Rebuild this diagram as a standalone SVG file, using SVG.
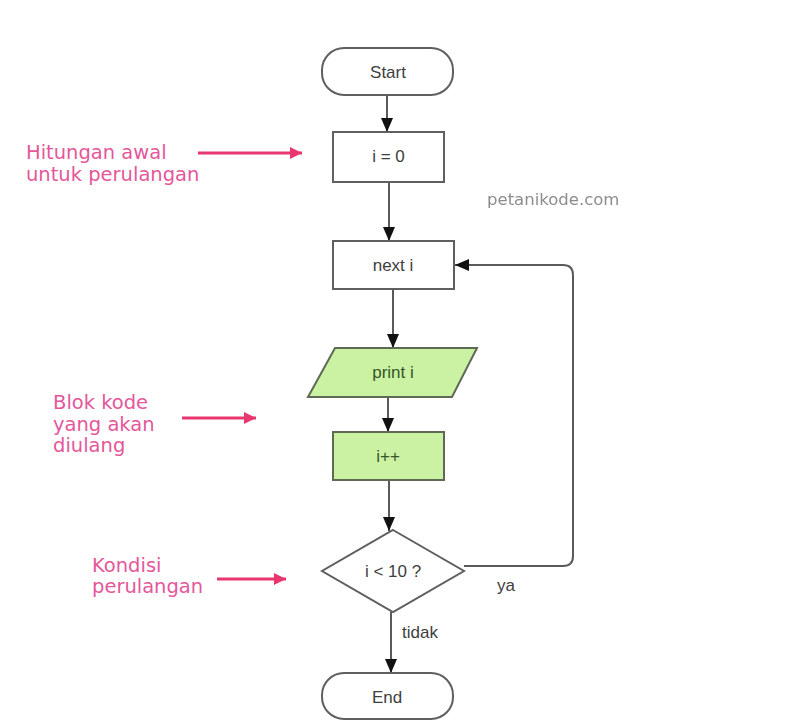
<svg xmlns="http://www.w3.org/2000/svg" width="793" height="721" viewBox="0 0 793 721">
  <style>
    .shape { fill: #ffffff; stroke: #5f5f5f; stroke-width: 2; }
    .green { fill: #cbf1a3; stroke: #5f6a55; stroke-width: 2; }
    .label { font-family: "Liberation Sans", Arial, sans-serif; font-size: 17px; fill: #3e3e3e; text-anchor: middle; }
    .glabel { font-family: "Liberation Sans", Arial, sans-serif; font-size: 17px; fill: #35562a; text-anchor: middle; }
    .edge { font-family: "Liberation Sans", Arial, sans-serif; font-size: 17px; fill: #3e3e3e; }
    .flow { fill: none; stroke: #5a5a5a; stroke-width: 2; marker-end: url(#head); }
    .note { font-family: "DejaVu Sans", Verdana, sans-serif; font-size: 19.5px; fill: #e4579a; }
    .pointer { fill: none; stroke: #e8366f; stroke-width: 3; marker-end: url(#pink); }
  </style>
  <defs>
    <marker id="head" markerUnits="userSpaceOnUse" markerWidth="14" markerHeight="12" refX="14" refY="6" orient="auto">
      <path d="M0,0 L14,6 L0,12 z" fill="#111"/>
    </marker>
    <marker id="pink" markerUnits="userSpaceOnUse" markerWidth="12" markerHeight="12" refX="12" refY="6" orient="auto">
      <path d="M0,0 L12,6 L0,12 z" fill="#e8366f"/>
    </marker>
    <filter id="soft" x="-5%" y="-20%" width="110%" height="140%">
      <feGaussianBlur stdDeviation="0.7"/>
    </filter>
  </defs>

  <rect width="793" height="721" fill="#ffffff"/>

  <!-- watermark -->
  <text x="487" y="205" font-family="DejaVu Sans, sans-serif" font-size="16.5" fill="#8c8c8c" filter="url(#soft)">petanikode.com</text>

  <!-- connectors -->
  <g id="connectors">
    <line class="flow" x1="387" y1="95" x2="387" y2="132"/>
    <line class="flow" x1="389" y1="182" x2="389" y2="241"/>
    <line class="flow" x1="393" y1="289" x2="393" y2="348"/>
    <line class="flow" x1="388" y1="397" x2="388" y2="432"/>
    <line class="flow" x1="389" y1="480" x2="389" y2="531"/>
    <path class="flow" d="M464,566 H563 Q573,566 573,556 V275 Q573,265 563,265 H455"/>
    <line class="flow" x1="391" y1="612" x2="391" y2="673"/>
    <text class="edge" x="497" y="591">ya</text>
    <text class="edge" x="402" y="638">tidak</text>
  </g>

  <!-- nodes -->
  <g id="start">
    <rect class="shape" x="322" y="48" width="131" height="47" rx="22"/>
    <text class="label" x="388" y="78">Start</text>
  </g>
  <g id="init">
    <rect class="shape" x="333" y="132" width="111" height="50"/>
    <text class="label" x="388.5" y="162">i = 0</text>
  </g>
  <g id="next">
    <rect class="shape" x="333" y="241" width="121" height="48"/>
    <text class="label" x="393" y="271">next i</text>
  </g>
  <g id="print">
    <polygon class="green" points="335,348 477,348 452,397 308,397"/>
    <text class="glabel" x="393" y="378">print i</text>
  </g>
  <g id="increment">
    <rect class="green" x="333" y="432" width="111" height="48"/>
    <text class="glabel" x="388" y="462">i++</text>
  </g>
  <g id="condition">
    <polygon class="shape" points="393,530 464,571 393,612 322,571"/>
    <text class="label" x="393" y="577">i &lt; 10 ?</text>
  </g>
  <g id="end">
    <rect class="shape" x="322" y="673" width="131" height="46" rx="22"/>
    <text class="label" x="387" y="703">End</text>
  </g>

  <!-- side notes -->
  <g id="note-init">
    <text class="note" x="26" y="159">Hitungan awal</text>
    <text class="note" x="26" y="181">untuk perulangan</text>
    <line class="pointer" x1="198" y1="153" x2="302" y2="153"/>
  </g>
  <g id="note-body">
    <text class="note" x="53" y="409">Blok kode</text>
    <text class="note" x="53" y="430.5">yang akan</text>
    <text class="note" x="53" y="452">diulang</text>
    <line class="pointer" x1="182" y1="418" x2="256" y2="418"/>
  </g>
  <g id="note-cond">
    <text class="note" x="92" y="572">Kondisi</text>
    <text class="note" x="92" y="593">perulangan</text>
    <line class="pointer" x1="217" y1="579" x2="286" y2="579"/>
  </g>
</svg>
